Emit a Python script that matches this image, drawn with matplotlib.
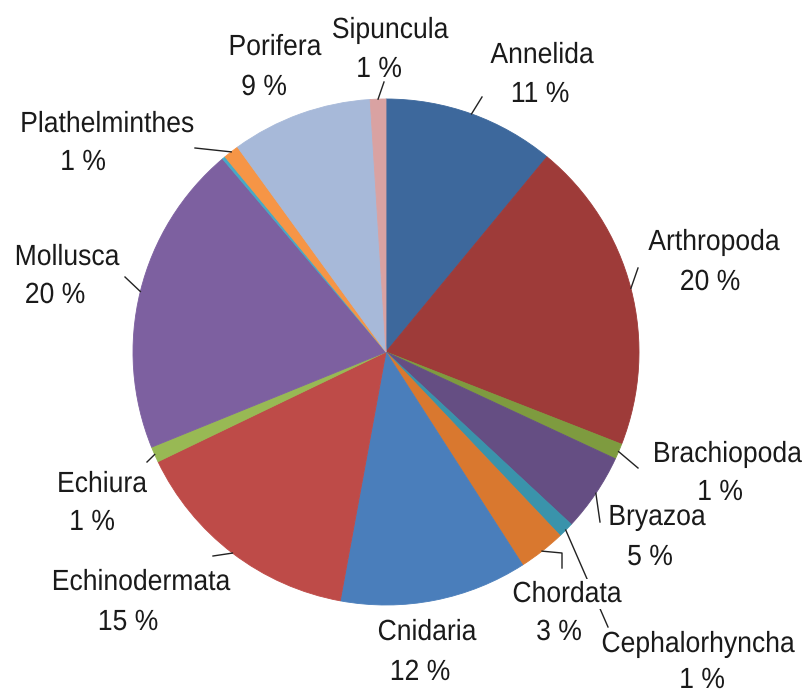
import matplotlib
matplotlib.use("Agg")
import matplotlib.pyplot as plt
import matplotlib.patheffects as pe
from matplotlib.transforms import Affine2D
import numpy as np

# Species share per phylum (percent)
phyla = ["Annelida", "Arthropoda", "Brachiopoda", "Bryazoa", "Cephalorhyncha",
         "Chordata", "Cnidaria", "Echinodermata", "Echiura", "Mollusca",
         "", "Plathelminthes", "Porifera", "Sipuncula"]
shares = [11, 20, 1, 5, 1, 3, 12, 15, 1, 20, 0.2, 1, 9, 1]
colors = ["#3D689C", "#9E3B39", "#7E9B3F", "#654E83", "#3A93AB",
          "#D9782F", "#4A7EBB", "#BE4B48", "#98B954", "#7D60A0",
          "#46AAC5", "#F69546", "#A7B9D9", "#D9A2A2"]

W, H = 807, 698
CX, CY, R = 386, 352, 253          # pie centre and radius, pixel units (y down)

# label layout: (name x, name baseline, percent x, percent baseline), pixel units
label_pos = {
    "Annelida":       (542, 63, 540, 102),
    "Arthropoda":     (714, 250, 710, 290),
    "Brachiopoda":    (802, 462, 720, 500),
    "Bryazoa":        (657, 525, 650, 565),
    "Cephalorhyncha": (698, 652, 702, 688),
    "Chordata":       (567, 602, 559, 640),
    "Cnidaria":       (427, 640, 420, 680),
    "Echinodermata":  (141, 590, 128, 630),
    "Echiura":        (102, 492, 92, 530),
    "Mollusca":       (67, 265, 55, 303),
    "Plathelminthes": (107, 132, 83, 170),
    "Porifera":       (275, 55, 264, 95),
    "Sipuncula":      (390, 38, 379, 77),
}
name_align = {"Brachiopoda": "right"}
# leader line bend/end points, pixel units
leader_pts = {
    "Annelida":       [(482, 97)],
    "Arthropoda":     [(638, 268)],
    "Brachiopoda":    [(638, 468)],
    "Bryazoa":        [(600, 522)],
    "Cephalorhyncha": [(608, 627)],
    "Chordata":       [(562, 553), (562, 568)],
    "Echinodermata":  [(213, 556)],
    "Echiura":        [(147, 462)],
    "Mollusca":       [(125, 277)],
    "Plathelminthes": [(195, 148)],
    "Sipuncula":      [(384, 82)],
}

FONT = ["Liberation Sans", "DejaVu Sans"]
FS = 21
SQUEEZE = 0.91      # horizontal compression of the label glyphs
TXT = "#1a1a1a"


class Narrow(pe.AbstractPathEffect):
    """Draw text glyphs squeezed horizontally about the text anchor."""

    def __init__(self, text, sx):
        super().__init__()
        self.text = text
        self.sx = sx

    def draw_path(self, renderer, gc, tpath, affine, rgbFace=None):
        x0, y0 = self.text.get_transform().transform(self.text.get_position())
        squeeze = (Affine2D().translate(-x0, -y0).scale(self.sx, 1.0)
                   .translate(x0, y0))
        renderer.draw_path(gc, tpath, affine + squeeze, rgbFace)


fig = plt.figure(figsize=(W / 100, H / 100), dpi=100)
ax = fig.add_axes([0, 0, 1, 1])

def fy(y):
    return H - y

wedges, _ = ax.pie(shares, colors=colors, startangle=90, counterclock=False,
                   center=(CX, fy(CY)), radius=R,
                   wedgeprops=dict(linewidth=0.6))
for w in wedges:
    w.set_edgecolor(w.get_facecolor())
ax.set_xlim(0, W)
ax.set_ylim(0, H)
ax.set_aspect("equal")
ax.axis("off")


def label(x, y, s, ha="center", bbox=None):
    t = ax.text(x, fy(y), s, ha=ha, va="baseline", fontsize=FS,
                family=FONT, color=TXT, zorder=5, bbox=bbox)
    t.set_path_effects([Narrow(t, SQUEEZE)])
    return t


total = sum(shares)
for name, val, w in zip(phyla, shares, wedges):
    if not name:
        continue
    pct = 100.0 * val / total
    nx, ny, px, pyy = label_pos[name]
    bbox = None
    if name == "Chordata":
        bbox = dict(facecolor="white", edgecolor="none", pad=1)
    label(nx, ny, name, ha=name_align.get(name, "center"), bbox=bbox)
    label(px, pyy, f"{pct:.0f} %", bbox=bbox)
    if name in leader_pts:
        mid = np.deg2rad((w.theta1 + w.theta2) / 2)
        x0 = w.center[0] + w.r * np.cos(mid)
        y0 = w.center[1] + w.r * np.sin(mid)
        xs = [x0] + [p[0] for p in leader_pts[name]]
        ys = [y0] + [fy(p[1]) for p in leader_pts[name]]
        ax.plot(xs, ys, color="#222222", lw=1.0, zorder=3)

fig.savefig("out.png", dpi=100, facecolor="white")
